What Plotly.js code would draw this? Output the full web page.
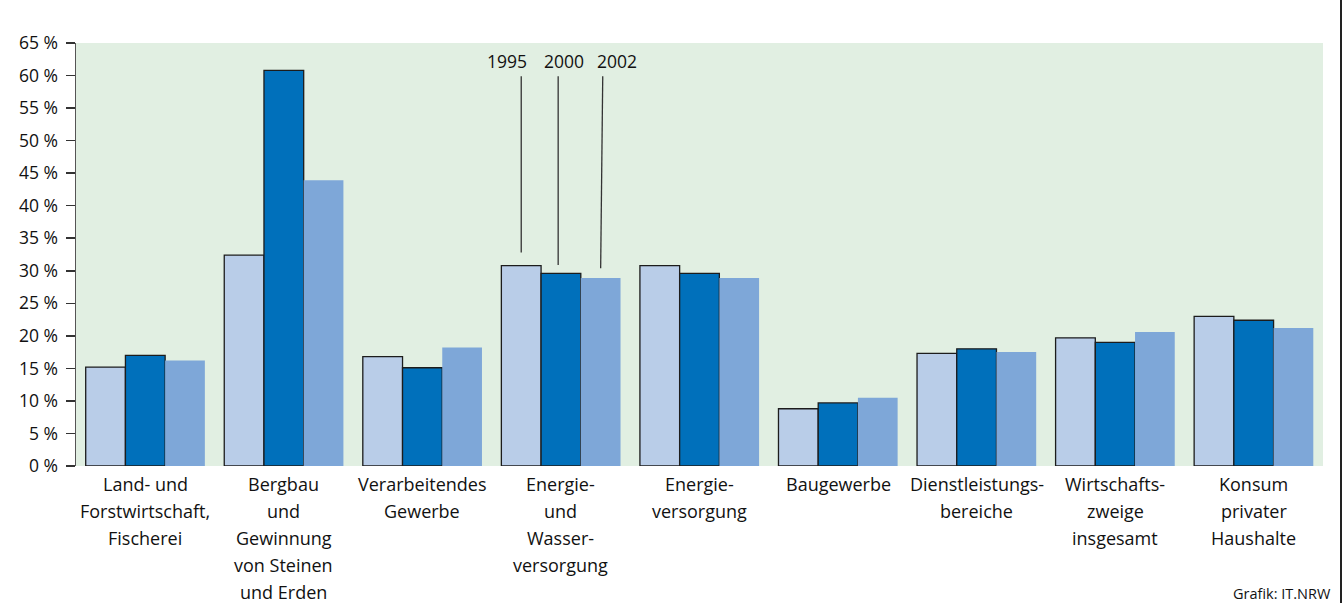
<!DOCTYPE html>
<html>
<head>
<meta charset="utf-8">
<script src="https://cdn.plot.ly/plotly-3.0.1.min.js"></script>
<style>
  html, body { margin: 0; padding: 0; background: #ffffff; }
  #chart { width: 1340px; height: 603px; border-right: 2px solid #222; }
</style>
</head>
<body>
<div id="chart"></div>
<script>
// Sectors (x categories) and the lines of their multi-line labels
const categories = [
  'Land- und Forstwirtschaft, Fischerei',
  'Bergbau und Gewinnung von Steinen und Erden',
  'Verarbeitendes Gewerbe',
  'Energie- und Wasserversorgung',
  'Energieversorgung',
  'Baugewerbe',
  'Dienstleistungsbereiche',
  'Wirtschaftszweige insgesamt',
  'Konsum privater Haushalte'
];
const labelLines = [
  ['Land- und', 'Forstwirtschaft,', 'Fischerei'],
  ['Bergbau', 'und', 'Gewinnung', 'von Steinen', 'und Erden'],
  ['Verarbeitendes', 'Gewerbe'],
  ['Energie-', 'und', 'Wasser-', 'versorgung'],
  ['Energie-', 'versorgung'],
  ['Baugewerbe'],
  ['Dienstleistungs-', 'bereiche'],
  ['Wirtschafts-', 'zweige', 'insgesamt'],
  ['Konsum', 'privater', 'Haushalte']
];

const years = ['1995', '2000', '2002'];
const values1995 = [15.2, 32.4, 16.8, 30.8, 30.8, 8.8, 17.3, 19.7, 23.0];
const values2000 = [17.0, 60.8, 15.1, 29.6, 29.6, 9.7, 18.0, 19.0, 22.4];
const values2002 = [16.2, 43.9, 18.2, 28.9, 28.9, 10.5, 17.5, 20.6, 21.2];

const yTicks = [0, 5, 10, 15, 20, 25, 30, 35, 40, 45, 50, 55, 60, 65];

const colors = ['#b9cde8', '#0070bb', '#7ea7d8'];
const outline = [{ color: '#1c1c1c', width: 1.3 }, { color: '#1c1c1c', width: 1.3 }, { color: 'rgba(0,0,0,0)', width: 0 }];
const series = [values1995, values2000, values2002];

const FONT = 'Open Sans, Noto Sans, sans-serif';
const BARGAP = 0.14;

const traces = series.map((vals, i) => ({
  type: 'bar',
  name: years[i],
  x: categories,
  y: vals,
  marker: { color: colors[i], line: outline[i] },
  hoverinfo: 'x+y+name'
}));

// Category labels, one annotation per line for wider line spacing
const annotations = [];
labelLines.forEach((lines, ci) => {
  lines.forEach((txt, li) => {
    annotations.push({
      xref: 'x', yref: 'paper',
      x: categories[ci], y: 0,
      text: txt, showarrow: false,
      xanchor: 'center', yanchor: 'middle',
      yshift: -18 - 27 * li,
      font: { family: FONT, size: 18, color: '#111' }
    });
  });
});

// Year key on the "Energie- und Wasserversorgung" group
const keyCat = 3;
const barOffset = (1 - BARGAP) / 3;
const keyOffsets = [-barOffset, 0, barOffset];
const keyTextShift = [-0.10, 0.02, 0.12];
const keyLineShift = [0, -0.02, 0.015];
const keyLineGap = [2.0, 1.3, 1.5];
const shapes = [];
years.forEach((yr, i) => {
  const xc = keyCat + keyOffsets[i];
  annotations.push({
    xref: 'x', yref: 'y',
    x: xc + keyTextShift[i], y: 62.3,
    text: yr, showarrow: false,
    xanchor: 'center', yanchor: 'middle',
    font: { family: FONT, size: 17.5, color: '#111' }
  });
  shapes.push({
    type: 'line', xref: 'x', yref: 'y',
    x0: xc + keyLineShift[i], x1: xc + (i === 2 ? 0 : keyLineShift[i]),
    y0: 59.9, y1: series[i][keyCat] + keyLineGap[i],
    line: { color: '#333', width: 1.3 }
  });
});

annotations.push({
  xref: 'paper', yref: 'paper',
  x: 1.0, y: 0, xanchor: 'right', yanchor: 'middle',
  xshift: 10, yshift: -127,
  text: 'Grafik: IT.NRW', showarrow: false,
  font: { family: FONT, size: 14.5, color: '#111' }
});

const layout = {
  width: 1340, height: 603,
  margin: { l: 76, r: 17, t: 43, b: 137, pad: 0 },
  paper_bgcolor: '#ffffff',
  plot_bgcolor: '#e1efe2',
  barmode: 'group',
  bargap: BARGAP,
  bargroupgap: 0,
  showlegend: false,
  xaxis: {
    type: 'category',
    showticklabels: false,
    ticks: '',
    showgrid: false,
    zeroline: false,
    showline: false,
    range: [-0.5, categories.length - 0.5]
  },
  yaxis: {
    range: [0, 65],
    tickvals: yTicks,
    ticktext: yTicks.map(v => v + ' %'),
    ticks: 'outside',
    ticklen: 9,
    tickwidth: 1.5,
    tickcolor: '#333',
    ticklabelstandoff: 4,
    showline: true,
    linecolor: '#555',
    linewidth: 1.5,
    showgrid: false,
    zeroline: false,
    tickfont: { family: FONT, size: 17.5, color: '#111' }
  },
  annotations: annotations,
  shapes: shapes
};

Plotly.newPlot('chart', traces, layout, { displayModeBar: false, staticPlot: true });
</script>
</body>
</html>
